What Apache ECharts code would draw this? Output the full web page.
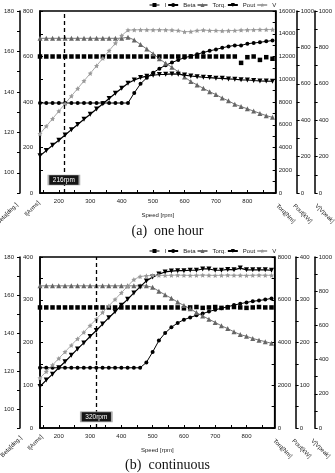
<!DOCTYPE html>
<html>
<head>
<meta charset="utf-8">
<script src="https://cdn.jsdelivr.net/npm/echarts@6/dist/echarts.min.js"></script>
<style>
  html, body { margin: 0; padding: 0; background: #fff; }
  #chart { width: 335px; height: 473px; }
</style>
</head>
<body>
<div id="chart"></div>
<script>
// speed steps shared by both panels
const speedRpm = [140, 160, 180, 200, 220, 240, 260, 280, 300, 320, 340, 360, 380, 400, 420, 440, 460, 480, 500,
  520, 540, 560, 580, 600, 620, 640, 660, 680, 700, 720, 740, 760, 780, 800, 820, 840, 860, 880];

// (a) one hour
const iA = [600, 600, 600, 600, 600, 600, 600, 600, 600, 600, 600, 600, 600, 600, 600, 600, 600, 600, 600,
  600, 600, 600, 600, 600, 600, 600, 600, 600, 600, 600, 600, 600, 572, 597, 600, 585, 597, 590];
const betaA = [134.5, 134.5, 134.5, 134.5, 134.5, 134.5, 134.5, 134.5, 134.5, 134.5, 134.5, 134.5, 134.5, 134.5, 134.5,
  139.5, 144, 147, 149.5, 151.5, 153.2, 154.5, 155.8, 156.9, 157.7, 158.6, 159.5, 160.3, 161, 161.8, 162.5, 163, 163,
  163.8, 164.2, 164.5, 165, 165.4];
const torqA = [13600, 13600, 13600, 13600, 13600, 13600, 13600, 13600, 13600, 13600, 13600, 13600, 13600, 13600,
  13700, 13450, 13050, 12650, 12250, 11800, 11400, 11050, 10650, 10200, 9800, 9500, 9200, 8900, 8650, 8350, 8100,
  7800, 7600, 7400, 7200, 7000, 6800, 6650];
const poutA = [205, 233, 262, 290, 319, 348, 376, 405, 433, 462, 490, 519, 548, 576, 603, 621, 634, 642, 647, 651,
  652, 654, 653, 648, 643, 639, 636, 634, 631, 630, 627, 625, 622, 621, 618, 616, 615, 614];
const vA = [325, 367, 408, 450, 491, 533, 574, 616, 657, 699, 740, 782, 823, 865, 895, 896, 897, 897, 896, 897,
  896, 895, 893, 886, 887, 893, 895, 893, 893, 891, 892, 893, 895, 896, 897, 898, 898, 898];

// (b) continuous
const iB = [282, 282, 282, 282, 282, 282, 282, 282, 282, 282, 282, 282, 282, 282, 282, 282, 282, 282, 282, 282,
  282, 282, 282, 280, 282, 283, 281, 282, 283, 281, 282, 283, 282, 281, 282, 283, 282, 282];
const betaB = [121.7, 121.7, 121.7, 121.7, 121.7, 121.7, 121.7, 121.7, 121.7, 121.7, 121.7, 121.7, 121.7, 121.7,
  121.7, 121.7, 121.7, 124.5, 130, 136, 140, 143, 145.3, 147, 148.2, 149.3, 150.2, 151.3, 152.2, 153, 153.8, 154.7,
  155.4, 156.1, 156.7, 157.1, 157.6, 158.2];
const torqB = [6650, 6650, 6650, 6650, 6650, 6650, 6650, 6650, 6650, 6650, 6650, 6650, 6650, 6650, 6650, 6650, 6650,
  6650, 6580, 6400, 6230, 6070, 5890, 5730, 5580, 5400, 5240, 5090, 4940, 4780, 4650, 4500, 4370, 4290, 4190, 4110,
  4040, 3960];
const poutB = [97, 112, 126, 141, 155, 170, 185, 199, 214, 228, 243, 258, 272, 287, 301, 316, 330, 344, 353, 360,
  365, 367, 368, 368, 369, 369, 372, 372, 369, 369, 371, 370, 374, 370, 370, 370, 370, 369];
const vB = [292, 330, 368, 407, 445, 484, 522, 560, 599, 637, 676, 714, 752, 791, 829, 868, 886, 890, 892, 893, 892,
  893, 894, 893, 892, 893, 894, 893, 892, 893, 894, 893, 893, 892, 893, 894, 893, 893];

// marked speeds
const markRpm = [216, 320];
const markText = ['216rpm', '320rpm'];

// tick labels
const speedLabels = [200, 300, 400, 500, 600, 700, 800];
const speedTicks = [150, 200, 250, 300, 350, 400, 450, 500, 550, 600, 650, 700, 750, 800, 850];
const betaLabels = [100, 120, 140, 160, 180];
const iLabelsA = [0, 200, 400, 600, 800];
const torqLabelsA = [0, 2000, 4000, 6000, 8000, 10000, 12000, 14000, 16000];
const poutLabelsA = [0, 200, 400, 600, 800, 1000];
const vLabels = [0, 200, 400, 600, 800, 1000];
const iLabelsB = [0, 100, 200, 300, 400];
const torqLabelsB = [0, 2000, 4000, 6000, 8000];
const poutLabelsB = [0, 100, 200, 300, 400];

const FONT = 'Liberation Sans';
const starPath = 'path://M0,-10L2.9,-4L9.5,-3.1L4.8,1.5L5.9,8.1L0,5L-5.9,8.1L-4.8,1.5L-9.5,-3.1L-2.9,-4Z';

function xAx(gridIndex) {
  return {
    type: 'value',
    gridIndex: gridIndex,
    min: 140,
    max: 890,
    name: 'Speed [rpm]',
    nameLocation: 'middle',
    nameGap: 19,
    nameTextStyle: { fontSize: 6, fontFamily: FONT, color: '#222' },
    axisLine: { onZero: false, lineStyle: { color: '#000', width: 1.5 } },
    axisTick: { inside: true, length: 3, customValues: speedTicks, lineStyle: { color: '#000' } },
    axisLabel: { customValues: speedLabels, fontSize: 6, fontFamily: FONT, color: '#222', margin: 5 },
    splitLine: { show: false }
  };
}

function yAx(gridIndex, position, offset, min, max, interval, labels, inside, margin) {
  return {
    type: 'value',
    gridIndex: gridIndex,
    position: position,
    offset: offset,
    min: min,
    max: max,
    interval: interval,
    axisLine: { show: true, onZero: false, lineStyle: { color: '#000', width: 1.5 } },
    axisTick: { show: true, inside: inside, length: 3, lineStyle: { color: '#000' } },
    axisLabel: {
      fontSize: 6,
      fontFamily: FONT,
      color: '#222',
      margin: margin,
      formatter: (v) => (labels.indexOf(v) >= 0 ? String(v) : '')
    },
    splitLine: { show: false }
  };
}

function pairs(vals) {
  return speedRpm.map((s, i) => [s, vals[i]]);
}

function panelSeries(gridIndex, iv, beta, torq, pout, v) {
  const y0 = gridIndex * 5;
  return [
    {
      name: 'I', type: 'line', xAxisIndex: gridIndex, yAxisIndex: y0 + 1, data: pairs(iv),
      symbol: 'rect', symbolSize: 4.5, itemStyle: { color: '#000' },
      lineStyle: { color: '#000', width: 1, opacity: 0 },
      markLine: {
        silent: true,
        symbol: ['none', 'none'],
        label: { show: false },
        lineStyle: { color: '#000', width: 1.3, type: [4, 3] },
        data: [{ xAxis: markRpm[gridIndex] }]
      },
      markPoint: {
        silent: true,
        symbol: 'rect',
        symbolSize: [31, 10],
        itemStyle: { color: '#151515', borderColor: '#aaa', borderWidth: 1 },
        label: { show: true, color: '#fff', fontSize: 6.5, fontFamily: FONT, formatter: markText[gridIndex] },
        data: [{ coord: [markRpm[gridIndex], gridIndex === 0 ? 57 : 26] }]
      }
    },
    {
      name: 'Beta', type: 'line', xAxisIndex: gridIndex, yAxisIndex: y0, data: pairs(beta),
      symbol: 'circle', symbolSize: 4, itemStyle: { color: '#000' },
      lineStyle: { color: '#000', width: 1 }
    },
    {
      name: 'Torq.', type: 'line', xAxisIndex: gridIndex, yAxisIndex: y0 + 2, data: pairs(torq),
      symbol: 'triangle', symbolSize: 5, itemStyle: { color: '#666' },
      lineStyle: { color: '#777', width: 1 }
    },
    {
      name: 'Pout', type: 'line', xAxisIndex: gridIndex, yAxisIndex: y0 + 3, data: pairs(pout),
      symbol: 'triangle', symbolRotate: 180, symbolSize: 5, itemStyle: { color: '#000' },
      lineStyle: { color: '#000', width: 1.2 }
    },
    {
      name: 'V', type: 'line', xAxisIndex: gridIndex, yAxisIndex: y0 + 4, data: pairs(v),
      symbol: starPath, symbolSize: 5, itemStyle: { color: '#999' },
      lineStyle: { color: '#aaa', width: 1 }
    }
  ];
}

function legendAt(top) {
  return {
    top: top,
    left: 149,
    padding: 0,
    itemWidth: 10,
    itemHeight: 5,
    itemGap: 1,
    textStyle: { fontSize: 6, fontFamily: FONT, color: '#222' },
    data: [{ name: 'I', lineStyle: { opacity: 1, width: 1, color: '#000' } }, 'Beta', 'Torq.', 'Pout', 'V']
  };
}

function rotName(text, x, y, left) {
  return {
    type: 'text', x: x, y: y, rotation: left ? Math.PI / 4 : -Math.PI / 4,
    style: { text: text, fontSize: 6, fontFamily: FONT, fill: '#222', align: left ? 'right' : 'left', verticalAlign: 'middle' }
  };
}

const chart = echarts.init(document.getElementById('chart'));
chart.setOption({
  animation: false,
  backgroundColor: '#fff',
  title: [
    { text: '(a)  one hour', left: 'center', top: 224, padding: 0,
      textStyle: { fontFamily: 'Liberation Serif', fontSize: 14, fontWeight: 'normal', color: '#111' } },
    { text: '(b)  continuous', left: 'center', top: 458, padding: 0,
      textStyle: { fontFamily: 'Liberation Serif', fontSize: 14, fontWeight: 'normal', color: '#111' } }
  ],
  legend: [legendAt(2), legendAt(248)],
  grid: [
    { left: 40, right: 55, top: 11, height: 182, show: true, borderColor: '#000', borderWidth: 1.5 },
    { left: 40, right: 58, top: 257, height: 171, show: true, borderColor: '#000', borderWidth: 1.5 }
  ],
  xAxis: [xAx(0), xAx(1)],
  yAxis: [
    yAx(0, 'left', 20, 90, 180, 10, betaLabels, false, 6),
    yAx(0, 'left', 0, 0, 800, 100, iLabelsA, true, 7),
    yAx(0, 'right', 0, 0, 16000, 1000, torqLabelsA, true, 3),
    yAx(0, 'right', 21, 0, 1000, 100, poutLabelsA, false, 4),
    yAx(0, 'right', 39, 0, 1000, 100, vLabels, false, 4),
    yAx(1, 'left', 20, 90, 180, 10, betaLabels, false, 6),
    yAx(1, 'left', 0, 0, 400, 50, iLabelsB, true, 7),
    yAx(1, 'right', 0, 0, 8000, 1000, torqLabelsB, true, 3),
    yAx(1, 'right', 21, 0, 400, 50, poutLabelsB, false, 4),
    yAx(1, 'right', 40, 0, 1000, 100, vLabels, false, 4)
  ],
  graphic: [
    rotName('Beta[deg.]', 17, 204, true),
    rotName('I[Arms]', 39, 202, true),
    rotName('Torq[Nm]', 277, 205, false),
    rotName('Pout[kW]', 294, 205, false),
    rotName('V[Vpeak]', 316, 205, false),
    rotName('Beta[deg.]', 21, 437, true),
    rotName('I[Arms]', 42, 436, true),
    rotName('Torq[Nm]', 274, 440, false),
    rotName('Pout[kW]', 293, 440, false),
    rotName('V[Vpeak]', 312, 440, false)
  ],
  series: [
    ...panelSeries(0, iA, betaA, torqA, poutA, vA),
    ...panelSeries(1, iB, betaB, torqB, poutB, vB)
  ]
});
</script>
</body>
</html>
